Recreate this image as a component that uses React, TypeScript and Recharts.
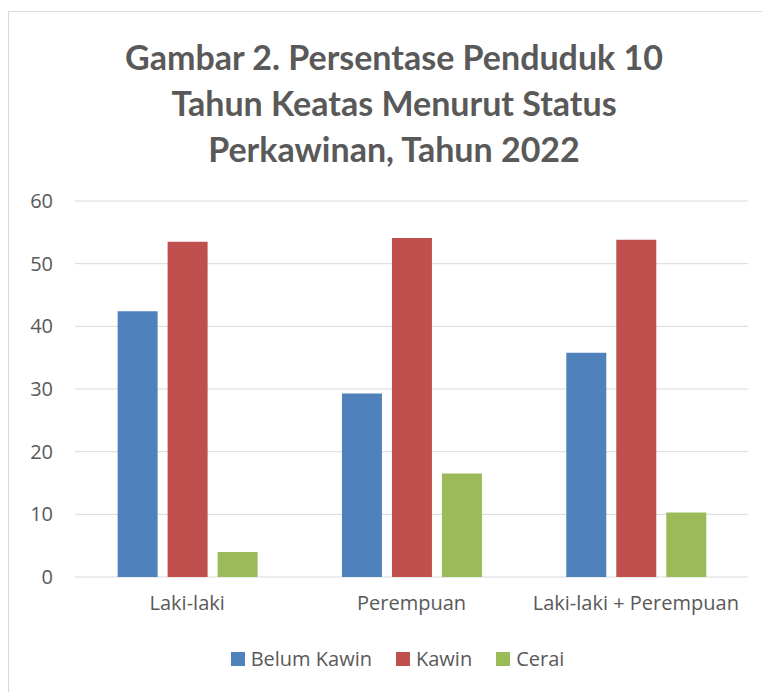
import React from "react";
import {
  BarChart,
  Bar,
  XAxis,
  YAxis,
  CartesianGrid,
  Legend,
} from "recharts";

const categories = ["Laki-laki", "Perempuan", "Laki-laki + Perempuan"];
const belumKawin = [42.4, 29.3, 35.8];
const kawin = [53.5, 54.1, 53.8];
const cerai = [4.0, 16.5, 10.3];
const yTicks = [0, 10, 20, 30, 40, 50, 60];

const series = [
  { key: "belum", name: "Belum Kawin", color: "#4F81BD" },
  { key: "kawin", name: "Kawin", color: "#C0504D" },
  { key: "cerai", name: "Cerai", color: "#9BBB59" },
];

const data = categories.map((name, i) => ({
  name,
  belum: belumKawin[i],
  kawin: kawin[i],
  cerai: cerai[i],
}));

const textColor = "#595959";
const font = "'Open Sans', sans-serif";

const LegendRow = () => (
  <div
    style={{
      display: "flex",
      justifyContent: "center",
      paddingLeft: 38,
      fontFamily: font,
      fontSize: 20,
      color: textColor,
      lineHeight: "26px",
    }}
  >
    {series.map((s) => (
      <div key={s.key} style={{ display: "flex", alignItems: "center", margin: "0 12px" }}>
        <span style={{ width: 14, height: 14, background: s.color, marginRight: 6 }} />
        <span>{s.name}</span>
      </div>
    ))}
  </div>
);

export default function App() {
  return (
    <div
      style={{
        position: "absolute",
        left: 8,
        top: 11,
        width: 754,
        height: 681,
        overflow: "hidden",
        borderTop: "1px solid #d9d9d9",
        borderLeft: "1px solid #d9d9d9",
        boxSizing: "border-box",
        background: "#fff",
      }}
    >
      <div
        style={{
          position: "absolute",
          left: 0,
          top: 22,
          width: 753,
          paddingLeft: 17,
          boxSizing: "border-box",
          textAlign: "center",
          fontFamily: "Lato, sans-serif",
          fontWeight: 700,
          fontSize: 34,
          lineHeight: "46px",
          color: textColor,
        }}
      >
        Gambar 2. Persentase Penduduk 10
        <br />
        Tahun Keatas Menurut Status
        <br />
        Perkawinan, Tahun 2022
      </div>
      <BarChart
        width={753}
        height={680}
        data={data}
        margin={{ top: 189, right: 14, bottom: 20, left: 0 }}
        barCategoryGap="19%"
        barGap={10}
      >
        <CartesianGrid vertical={false} stroke="#d9d9d9" strokeWidth={1} />
        <XAxis
          dataKey="name"
          axisLine={false}
          tickLine={false}
          tickSize={0}
          tickMargin={19}
          height={69}
          tick={{ fill: textColor, fontSize: 20, fontFamily: font }}
        />
        <YAxis
          domain={[0, 60]}
          ticks={yTicks}
          axisLine={false}
          tickLine={false}
          tickSize={0}
          tickMargin={22}
          width={66}
          tick={{ fill: textColor, fontSize: 20, fontFamily: font }}
        />
        <Legend verticalAlign="bottom" content={<LegendRow />} />
        {series.map((s) => (
          <Bar
            key={s.key}
            dataKey={s.key}
            name={s.name}
            fill={s.color}
            isAnimationActive={false}
          />
        ))}
      </BarChart>
    </div>
  );
}
